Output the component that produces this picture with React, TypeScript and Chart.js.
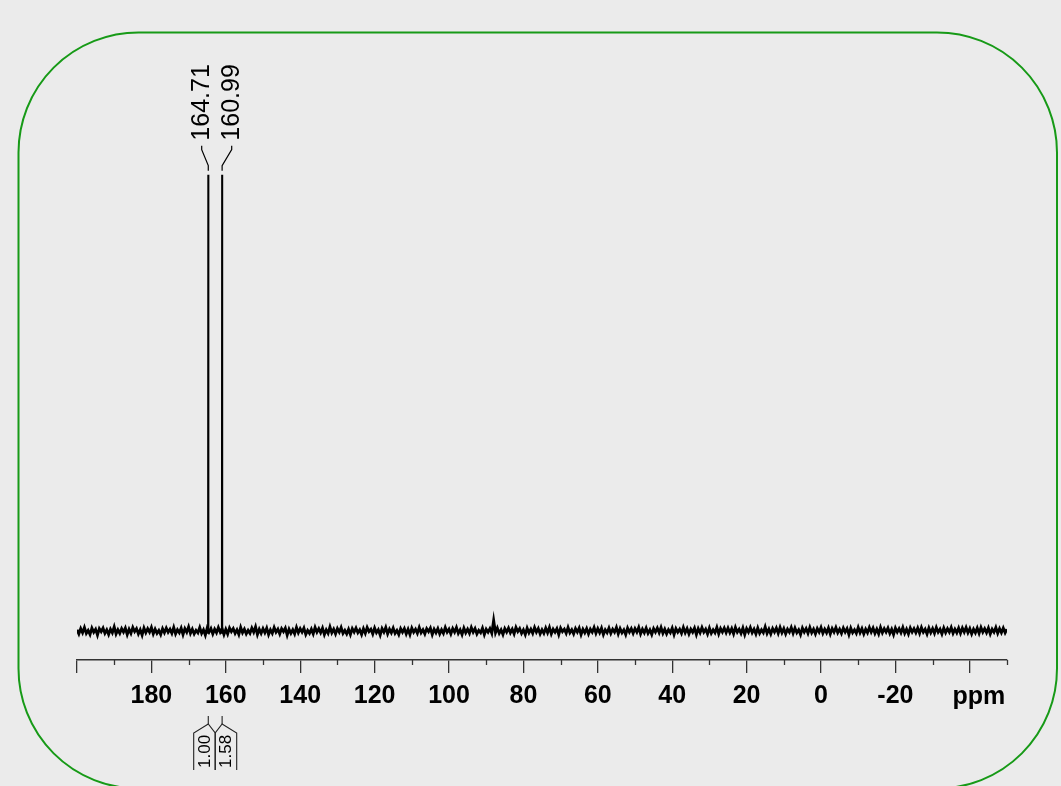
import React, { useEffect, useRef } from "react";
import { Chart, registerables } from "chart.js";

Chart.register(...registerables);

// Spectrum baseline sampled every 0.5 ppm from 200 ppm down to -50 ppm (noise in raw intensity steps)
const PPM_START = 200;
const PPM_STEP = 0.5;
const NOISE_UNIT = 0.13;
const noiseSteps = [
  2,-5,4,-3,6,-4,1,-6,5,-2,3,-7,4,-1,5,-4,2,-6,3,-3,7,-5,2,-4,4,
  -2,5,-6,3,-4,6,-1,4,-5,2,-7,5,-3,4,-2,6,-5,3,-4,1,-6,4,-3,5,-2,
  3,-4,6,-5,2,-3,5,-6,4,-2,7,-4,3,-5,1,-3,6,-4,2,-7,5,-2,4,-5,3,
  -3,6,-2,4,-6,3,-5,5,-1,4,-4,2,-6,6,-3,3,-5,1,-4,5,-2,7,-6,3,-4,
  4,-3,5,-6,2,-4,6,-2,3,-5,4,-1,5,-7,3,-4,2,-5,6,-3,4,-2,5,-6,1,
  -4,3,-5,6,-2,4,-3,5,-6,2,-4,7,-3,3,-5,4,-2,6,-4,1,-5,3,-6,4,-2,
  5,-3,2,-6,4,-4,6,-1,3,-5,5,-3,2,-7,4,-2,6,-5,3,-3,5,-4,1,-6,4,
  -2,4,-5,3,-6,5,-2,3,-4,6,-3,2,-5,4,-1,5,-6,3,-3,4,-5,2,-4,6,-2,
  3,-5,4,-2,6,-4,2,-6,5,-3,3,-4,6,-2,4,-5,1,-3,5,-6,3,-2,4,-4,18,
  -3,5,-4,2,-6,4,-2,5,-3,3,-5,6,-1,4,-4,2,-6,5,-3,3,-4,6,-2,4,-5,
  2,-4,5,-3,6,-5,3,-2,4,-6,5,-1,3,-4,6,-3,2,-5,4,-2,5,-6,3,-3,4,
  -5,3,-2,6,-4,4,-3,5,-6,2,-3,5,-4,3,-2,6,-5,4,-3,2,-6,5,-2,4,-4,
  4,-2,6,-5,3,-3,5,-4,2,-6,4,-2,5,-3,6,-4,3,-5,2,-3,5,-6,4,-2,3,
  -4,6,-3,4,-5,3,-2,5,-6,4,-3,6,-2,3,-5,5,-4,2,-3,6,-5,4,-2,5,-3,
  5,-3,4,-5,6,-2,3,-4,5,-6,4,-2,6,-3,3,-5,5,-4,2,-3,7,-4,3,-5,4,
  -2,5,-4,6,-3,4,-5,3,-2,6,-4,5,-3,2,-6,5,-2,4,-4,6,-3,3,-5,4,-2,
  6,-4,3,-3,5,-5,4,-2,6,-3,3,-4,5,-2,4,-6,5,-3,2,-4,6,-3,4,-5,3,
  -3,6,-2,5,-4,3,-5,6,-3,4,-2,5,-4,3,-6,5,-2,4,-3,6,-4,3,-5,5,-2,
  4,-3,5,-4,6,-2,3,-5,5,-3,4,-4,6,-2,3,-5,5,-3,4,-2,6,-4,3,-3,5,
  -4,5,-2,6,-3,4,-5,3,-3,5,-4,6,-2,4,-3,5,-5,3,-2,6,-4,4,-3,5,-3,
  3,
];

const peakPpm = [164.71, 160.99];
const peakHeight = [100, 100];
const peakHalfWidth = 0.02;
const peakFoot = 0.08;
const peakLabels = ["164.71", "160.99"];
const integralLabels = ["1.00", "1.58"];

const majorTicks = [200, 180, 160, 140, 120, 100, 80, 60, 40, 20, 0, -20, -40];
const majorTickLabels = ["", "180", "160", "140", "120", "100", "80", "60", "40", "20", "0", "-20", ""];
const minorTicks = [190, 170, 150, 130, 110, 90, 70, 50, 30, 10, -10, -30, -50];
const unitLabel = "ppm";
const unitTickValue = -40;

const X_MIN = -50;
const X_MAX = 200;
const Y_MIN = -6.36;
const Y_MAX = 110;

const BG = "#ebebeb";
const FONT = "'Liberation Sans', Arial, sans-serif";
const TICK_FONT_SIZE = 25;

function buildNoise() {
  return noiseSteps.map((v, i) => ({
    x: PPM_START - i * PPM_STEP,
    y: v * NOISE_UNIT,
  }));
}

function buildPeaks() {
  const pts: { x: number; y: number | null }[] = [];
  peakPpm.forEach((p, i) => {
    pts.push({ x: p + peakFoot, y: -0.6 });
    pts.push({ x: p + peakHalfWidth, y: peakHeight[i] });
    pts.push({ x: p - peakHalfWidth, y: peakHeight[i] });
    pts.push({ x: p - peakFoot, y: -0.6 });
    pts.push({ x: p - peakFoot - 0.01, y: null });
  });
  return pts;
}

const decorPlugin = {
  id: "nmrDecor",
  beforeDraw(chart: any) {
    const ctx = chart.ctx;
    ctx.save();
    ctx.fillStyle = BG;
    ctx.fillRect(0, 0, chart.width, chart.height);
    ctx.restore();
  },
  afterDraw(chart: any) {
    const ctx = chart.ctx;
    const xs = chart.scales.x;
    const ys = chart.scales.y;
    const area = chart.chartArea;
    ctx.save();

    // minor ticks
    ctx.strokeStyle = "#333";
    ctx.lineWidth = 1.3;
    minorTicks.forEach((v) => {
      const px = Math.round(xs.getPixelForValue(v)) + 0.5;
      ctx.beginPath();
      ctx.moveTo(px, area.bottom);
      ctx.lineTo(px, area.bottom + 5);
      ctx.stroke();
    });

    // unit label
    ctx.fillStyle = "#000";
    ctx.font = `bold ${TICK_FONT_SIZE}px ${FONT}`;
    ctx.textAlign = "center";
    ctx.textBaseline = "alphabetic";
    ctx.fillText(unitLabel, xs.getPixelForValue(unitTickValue) + 9, area.bottom + 44);

    // peak labels
    const peakPx = peakPpm.map((p) => xs.getPixelForValue(p));
    const peakTop = peakPpm.map((p, i) => ys.getPixelForValue(peakHeight[i]));
    const meanPx = peakPx.reduce((a, b) => a + b, 0) / peakPx.length;
    const labelGap = 30;
    const labelStartY = Math.min(...peakTop) - 34;
    ctx.font = `25px ${FONT}`;
    ctx.textAlign = "left";
    ctx.textBaseline = "middle";
    peakLabels.forEach((lab, i) => {
      const lx = meanPx + 1.5 + (i - (peakLabels.length - 1) / 2) * labelGap;
      ctx.save();
      ctx.translate(lx, labelStartY);
      ctx.rotate(-Math.PI / 2);
      ctx.fillText(lab, 0, 0);
      ctx.restore();
      ctx.strokeStyle = "#000";
      ctx.lineWidth = 1.2;
      ctx.beginPath();
      ctx.moveTo(lx, labelStartY + 5);
      ctx.lineTo(lx, labelStartY + 9);
      ctx.lineTo(peakPx[i], labelStartY + 25);
      ctx.lineTo(peakPx[i], labelStartY + 30);
      ctx.stroke();
    });

    // integrals
    const boxW = 21.5;
    const n = integralLabels.length;
    const boxLeft0 = meanPx - (n * boxW) / 2;
    const tickTop = 716;
    const apexY = 724;
    const shoulderY = 733;
    const boxBottom = 770;
    ctx.strokeStyle = "#222";
    ctx.lineWidth = 1.1;
    ctx.font = `17px ${FONT}`;
    ctx.fillStyle = "#000";
    integralLabels.forEach((lab, i) => {
      const bl = boxLeft0 + i * boxW;
      const br = bl + boxW;
      const px = peakPx[i];
      ctx.beginPath();
      ctx.moveTo(px, tickTop);
      ctx.lineTo(px, apexY);
      ctx.stroke();
      ctx.beginPath();
      ctx.moveTo(bl, boxBottom);
      ctx.lineTo(bl, shoulderY);
      ctx.lineTo(px, apexY);
      ctx.lineTo(br, shoulderY);
      ctx.lineTo(br, boxBottom);
      ctx.stroke();
      ctx.save();
      ctx.translate((bl + br) / 2 + 0.5, boxBottom - 2);
      ctx.rotate(-Math.PI / 2);
      ctx.textAlign = "left";
      ctx.textBaseline = "middle";
      ctx.fillText(lab, 0, 0);
      ctx.restore();
    });

    // green rounded frame
    ctx.strokeStyle = "#179a17";
    ctx.lineWidth = 2;
    ctx.beginPath();
    ctx.roundRect(18.5, 32.5, 1038.5, 756, 120);
    ctx.stroke();

    ctx.restore();
  },
};

export default function App() {
  const ref = useRef<HTMLCanvasElement | null>(null);

  useEffect(() => {
    document.body.style.margin = "0";
    document.body.style.background = BG;
    const canvas = ref.current;
    if (!canvas) return;
    const chart = new Chart(canvas, {
      type: "line",
      data: {
        datasets: [
          {
            data: buildNoise(),
            borderColor: "#000",
            borderWidth: 2.8,
            pointRadius: 0,
            tension: 0,
            fill: false,
          },
          {
            data: buildPeaks(),
            borderColor: "#000",
            borderWidth: 1.8,
            pointRadius: 0,
            tension: 0,
            fill: false,
            spanGaps: false,
          },
        ],
      },
      options: {
        animation: false,
        responsive: false,
        maintainAspectRatio: false,
        events: [],
        layout: { padding: { left: 77, right: 54, top: 129, bottom: 66 } },
        plugins: { legend: { display: false }, tooltip: { enabled: false } },
        scales: {
          x: {
            type: "linear",
            reverse: true,
            min: X_MIN,
            max: X_MAX,
            afterBuildTicks: (s: any) => {
              s.ticks = majorTicks.map((v) => ({ value: v }));
            },
            afterFit: (s: any) => {
              s.height = 60;
            },
            ticks: {
              autoSkip: false,
              maxRotation: 0,
              minRotation: 0,
              padding: 8,
              color: "#000",
              font: { family: FONT, size: TICK_FONT_SIZE, weight: "bold" },
              callback: (v: any) => {
                const idx = majorTicks.indexOf(Number(v));
                return idx >= 0 ? majorTickLabels[idx] : "";
              },
            },
            grid: {
              display: true,
              drawOnChartArea: false,
              drawTicks: true,
              tickLength: 13,
              color: "#333",
              lineWidth: 1.3,
            },
            border: { display: true, color: "#333", width: 1.5 },
          },
          y: {
            display: false,
            min: Y_MIN,
            max: Y_MAX,
          },
        },
      } as any,
      plugins: [decorPlugin],
    });
    return () => chart.destroy();
  }, []);

  return <canvas ref={ref} width={1061} height={786} style={{ display: "block" }} />;
}
